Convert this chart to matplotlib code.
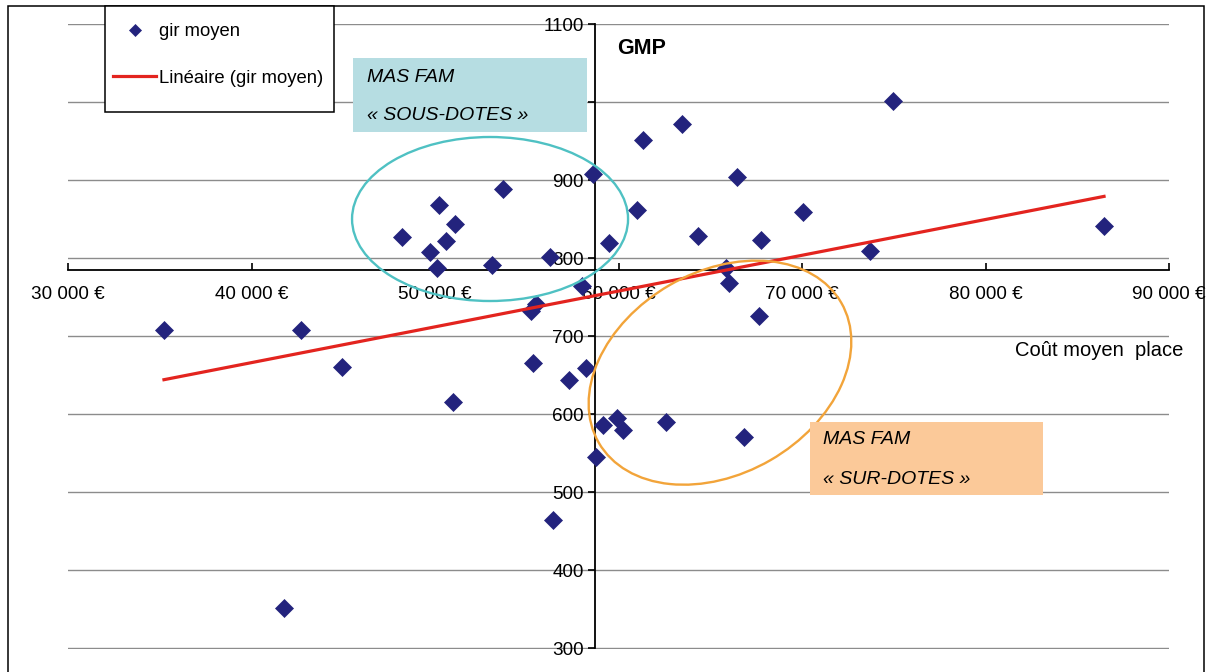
import matplotlib
matplotlib.use('Agg')
import matplotlib.pyplot as plt
from matplotlib.patches import Ellipse, Rectangle
from matplotlib.transforms import ScaledTranslation
from matplotlib.ticker import FuncFormatter

plt.rcParams['font.family'] = ['Liberation Sans', 'DejaVu Sans']

# coût moyen place (€) / gir moyen
cout_moyen = [35230, 41770, 42700, 44930, 48200, 49730, 50110, 50220, 50600, 51090,
              50980, 53110, 53710, 55230, 55510, 55340, 56270, 56430, 57300, 58010,
              58230, 58610, 58780, 59160, 59480, 59920, 60250, 61010, 61340, 62590,
              63460, 64340, 65860, 66020, 66460, 66840, 67660, 67770, 70060, 73710,
              74960, 86460]
gir_moyen = [708, 351, 708, 660, 827, 808, 787, 868, 822, 844,
             615, 791, 888, 732, 741, 665, 801, 464, 644, 764,
             659, 908, 545, 586, 819, 595, 580, 862, 951, 590,
             972, 828, 787, 768, 904, 571, 726, 823, 859, 809,
             1001, 841]

# linear trend (Excel "Linéaire"), end points
trend_x = [35230, 86460]
trend_y = [644, 879]

x_ticks = [30000, 40000, 50000, 60000, 70000, 80000, 90000]
y_ticks = [300, 400, 500, 600, 700, 800, 900, 1000, 1100]
x_cross = 58720   # vertical axis position
y_cross = 785     # horizontal axis position

W, H = 1207, 672
FS = 13.6
fig = plt.figure(figsize=(W / 100, H / 100), dpi=100)
# y range starts a hair below 300 so the bottom gridline is not clipped
ax = fig.add_axes([68 / W, 23.2 / H, 1101 / W, 624.8 / H])
ax.set_xlim(30000, 90000)
ax.set_ylim(299, 1100)

ax.yaxis.grid(True, color='#8C8C8C', linewidth=1.0, zorder=0)
ax.set_axisbelow(True)

pts, = ax.plot(cout_moyen, gir_moyen, linestyle='none', marker='D', markersize=8.8,
               color='#23237D', markeredgewidth=0.5, label='gir moyen', zorder=3)
trend, = ax.plot(trend_x, trend_y, color='#E3241F', linewidth=2.3,
                 label='Linéaire (gir moyen)', zorder=4)

for s in ['top', 'right']:
    ax.spines[s].set_visible(False)
ax.spines['left'].set_position(('data', x_cross))
ax.spines['left'].set_bounds(300, 1100)
ax.spines['bottom'].set_position(('data', y_cross))
ax.spines['left'].set_linewidth(1.3)
ax.spines['bottom'].set_linewidth(1.3)

ax.set_xticks(x_ticks)
ax.set_yticks(y_ticks)
ax.xaxis.set_major_formatter(FuncFormatter(lambda v, p: f"{int(v):,}".replace(',', ' ') + ' €'))
ax.tick_params(axis='x', direction='in', length=5, width=1.2, pad=12, labelsize=FS)
ax.tick_params(axis='y', direction='out', length=5, width=1.2, pad=3, labelsize=FS)

# circled groups, sized in pixels, centred on data points
def ring(cx, cy, w_px, h_px, angle, color):
    tr = fig.dpi_scale_trans + ScaledTranslation(cx, cy, ax.transData)
    ax.add_patch(Ellipse((0, 0), w_px / 100, h_px / 100, angle=angle, fill=False,
                         edgecolor=color, linewidth=1.7, transform=tr, clip_on=False, zorder=5))

ring(53000, 850, 276, 164, 0, '#4FC1C3')
ring(65530, 653, 280, 202, 30, '#F2A43A')

def fx(px):
    return px / W

def fy(py):
    return 1 - py / H

# label boxes
fig.patches.append(Rectangle((fx(353), fy(132)), 234 / W, 74 / H, transform=fig.transFigure,
                             facecolor='#B6DDE2', edgecolor='none', zorder=6))
fig.patches.append(Rectangle((fx(810), fy(495)), 233 / W, 73 / H, transform=fig.transFigure,
                             facecolor='#FBC999', edgecolor='none', zorder=6))
fig.text(fx(367), fy(77), 'MAS FAM', style='italic', fontsize=14, va='center', zorder=7)
fig.text(fx(367), fy(115), '« SOUS-DOTES »', style='italic', fontsize=14, va='center', zorder=7)
fig.text(fx(823), fy(440), 'MAS FAM', style='italic', fontsize=14, va='center', zorder=7)
fig.text(fx(823), fy(479), '« SUR-DOTES »', style='italic', fontsize=14, va='center', zorder=7)

fig.text(fx(617), fy(48), 'GMP', fontsize=15.5, fontweight='bold', va='center')
fig.text(fx(1183), fy(351), 'Coût moyen  place', fontsize=14.5, va='center', ha='right')

# outer chart frame
fig.patches.append(Rectangle((fx(8), -0.05), (1204 - 8) / W, fy(6) + 0.05, transform=fig.transFigure,
                             fill=False, edgecolor='black', linewidth=1.1, clip_on=False))

# legend frame drawn separately so the box size matches
fig.patches.append(Rectangle((fx(105), fy(112)), 229 / W, 106 / H, transform=fig.transFigure,
                             facecolor='white', edgecolor='black', linewidth=1.1, zorder=8))
leg = fig.legend(handles=[pts, trend], loc='upper left', bbox_to_anchor=(fx(113), fy(23)),
                 fontsize=13.3, frameon=False, borderpad=0, labelspacing=1.6,
                 handlelength=2.35, handletextpad=0.15, markerscale=0.65, borderaxespad=0)
leg.set_zorder(9)

plt.savefig('out.png', dpi=100)
